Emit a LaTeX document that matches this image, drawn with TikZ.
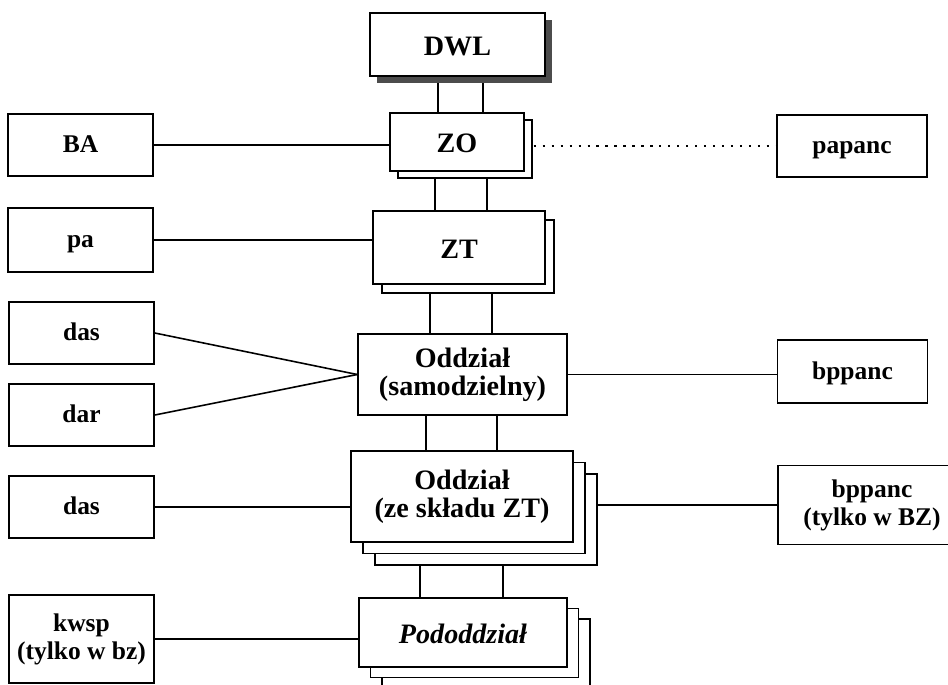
\documentclass[tikz,border=0pt]{standalone}
\usepackage{fontspec}
\setmainfont{Liberation Serif}
\usepackage{tikz}
\usetikzlibrary{shadows}
\usetikzlibrary{backgrounds}

\tikzset{
    box/.style={draw, black, fill=white, line width=0.9pt, inner sep=0pt, align=center,
        font=\bfseries\fontsize{14.5}{16}\selectfont},
    unit/.style={box, font=\bfseries\fontsize{16}{16}\selectfont},
    lone/.style={text height=10pt, text depth=1pt},
    loneunit/.style={text height=12pt, text depth=0pt},
    link/.style={line width=0.9pt},
}

\begin{document}
\begin{tikzpicture}[x=0.02cm, y=-0.02cm]
        \useasboundingbox (0,0) rectangle (948,684);
        \clip (0,0) rectangle (948,684);
        %middle part
        \node[unit, loneunit, minimum width=3.5cm, minimum height=1.26cm,
            drop shadow={shadow xshift=0.14cm, shadow yshift=-0.14cm, fill=black!70, opacity=1}]
            (dwl) at (457.5,44.5){DWL};
        \node[unit, loneunit, minimum width=2.68cm, minimum height=1.16cm,
            copy shadow={shadow xshift=0.16cm, shadow yshift=-0.14cm, draw, fill=white}]
            (zo) at (457,142){ZO};
        \node[unit, loneunit, minimum width=3.44cm, minimum height=1.46cm,
            copy shadow={shadow xshift=0.18cm, shadow yshift=-0.18cm, draw, fill=white}]
            (zt) at (459,247.5){ZT};
        \node[unit, minimum width=4.18cm, minimum height=1.62cm]
            (samodz) at (462.5,374.5){Oddział\\(samodzielny)};
        \node[unit, minimum width=4.44cm, minimum height=1.82cm,
            copy shadow={shadow xshift=0.48cm, shadow yshift=-0.46cm, draw, fill=white},
            copy shadow={shadow xshift=0.24cm, shadow yshift=-0.23cm, draw, fill=white}]
            (sklad) at (462,496.5){Oddział\\(ze składu ZT)};
        \node[unit, loneunit, minimum width=4.16cm, minimum height=1.38cm,
            copy shadow={shadow xshift=0.46cm, shadow yshift=-0.42cm, draw, fill=white},
            copy shadow={shadow xshift=0.23cm, shadow yshift=-0.21cm, draw, fill=white},
            font=\bfseries\itshape\fontsize{16}{16}\selectfont]
            (pododz) at (463,632.5){Pododdział};
        %left part
        \node[box, lone, minimum width=2.9cm, minimum height=1.24cm] (ba) at (80.5,145){BA};
        \node[box, lone, minimum width=2.9cm, minimum height=1.28cm] (pa) at (80.5,240){pa};
        \node[box, lone, minimum width=2.9cm, minimum height=1.24cm] (das1) at (81.5,333){das};
        \node[box, lone, minimum width=2.9cm, minimum height=1.24cm] (dar) at (81.5,415){dar};
        \node[box, lone, minimum width=2.9cm, minimum height=1.24cm] (das2) at (81.5,507){das};
        \node[box, minimum width=2.9cm, minimum height=1.76cm] (kwsp) at (81.5,639){kwsp\\(tylko w bz)};
        %right part
        \node[box, lone, minimum width=3.0cm, minimum height=1.24cm] (papanc) at (852,146){papanc};
        \node[box, lone, minimum width=3.0cm, minimum height=1.26cm] (bppanc) at (852.5,371.5){bppanc};
        \node[box, minimum width=3.76cm, minimum height=1.58cm] (bppancbz) at (872,505){bppanc\\(tylko w BZ)};
        %links
        \begin{scope}[on background layer]
        \draw[link] (dwl.south -| 438,0) -- (zo.north -| 438,0);
        \draw[link] (dwl.south -| 483,0) -- (zo.north -| 483,0);
        \draw[link] (zo.south -| 435,0) -- (zt.north -| 435,0);
        \draw[link] (zo.south -| 487,0) -- (zt.north -| 487,0);
        \draw[link] (zt.south -| 430,0) -- (samodz.north -| 430,0);
        \draw[link] (zt.south -| 492,0) -- (samodz.north -| 492,0);
        \draw[link] (samodz.south -| 426,0) -- (sklad.north -| 426,0);
        \draw[link] (samodz.south -| 497,0) -- (sklad.north -| 497,0);
        \draw[link] (sklad.south -| 420,0) -- (pododz.north -| 420,0);
        \draw[link] (sklad.south -| 503,0) -- (pododz.north -| 503,0);
        \draw[link] (ba.east) -- (ba.east -| zo.west);
        \draw[link] (pa.east) -- (pa.east -| zt.west);
        \draw[link] (das1.east) -- (samodz.west);
        \draw[link] (dar.east) -- (samodz.west);
        \draw[link] (das2.east) -- (das2.east -| sklad.west);
        \draw[link] (kwsp.east) -- (kwsp.east -| pododz.west);
        \draw[link, dash pattern=on 1.3pt off 3.8pt] (zo.east |- papanc.west) -- (papanc.west);
        \draw[link] (samodz.east) -- (samodz.east -| bppanc.west);
        \draw[link] (bppancbz.west) -- (bppancbz.west -| sklad.east);
        \end{scope}
    \end{tikzpicture}
\end{document}
